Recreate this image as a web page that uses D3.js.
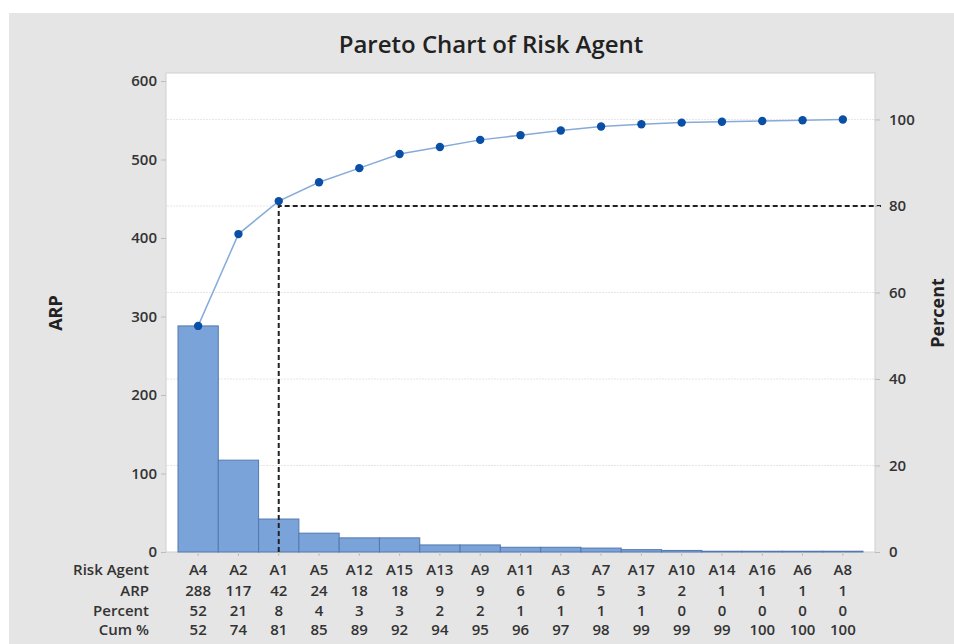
<!DOCTYPE html>
<html>
<head>
<meta charset="utf-8">
<script src="https://cdn.jsdelivr.net/npm/d3@7"></script>
<style>
  body { margin: 0; background: #fff; }
  text { font-family: "Open Sans", "DejaVu Sans", sans-serif; }
</style>
</head>
<body>
<div id="chart"></div>
<script>
// Data
const agents = ['A4', 'A2', 'A1', 'A5', 'A12', 'A15', 'A13', 'A9', 'A11', 'A3', 'A7', 'A17', 'A10', 'A14', 'A16', 'A6', 'A8']
const arp = [288, 117, 42, 24, 18, 18, 9, 9, 6, 6, 5, 3, 2, 1, 1, 1, 1]
const percent = [52, 21, 8, 4, 3, 3, 2, 2, 1, 1, 1, 1, 0, 0, 0, 0, 0]
const cumPercent = [52, 74, 81, 85, 89, 92, 94, 95, 96, 97, 98, 99, 99, 99, 100, 100, 100]
const leftTicks = [0, 100, 200, 300, 400, 500, 600]
const rightTicks = [0, 20, 40, 60, 80, 100]
const cutoff = 80

// Dimensions
const dimensions = {
  width: 954,
  height: 644,
  plotLeft: 166,
  plotRight: 875,
  plotTop: 73,
  plotBottom: 552
}

const svg = d3.select('#chart')
  .append('svg')
  .attr('width', dimensions.width)
  .attr('height', dimensions.height)

svg.append('rect')
  .attr('x', 9).attr('y', 13)
  .attr('width', dimensions.width - 9)
  .attr('height', dimensions.height - 13)
  .attr('fill', '#e5e5e5')

svg.append('rect')
  .attr('x', dimensions.plotLeft)
  .attr('y', dimensions.plotTop)
  .attr('width', dimensions.plotRight - dimensions.plotLeft)
  .attr('height', dimensions.plotBottom - dimensions.plotTop)
  .attr('fill', '#fff')
  .attr('stroke', '#cfcfcf')

// Scales
const total = d3.sum(arp)
const yScale = d3.scaleLinear()
  .domain([0, 600])
  .range([dimensions.plotBottom, 81])

const pctScale = d3.scaleLinear()
  .domain([0, 600 / total * 100])
  .range([dimensions.plotBottom, 81])

const xScale = d3.scaleBand()
  .domain(agents)
  .range([178, 863])
  .padding(0)

// Gridlines (percent axis)
svg.append('g')
  .selectAll('line')
  .data(rightTicks.filter(d => d > 0))
  .join('line')
  .attr('x1', dimensions.plotLeft + 1)
  .attr('x2', dimensions.plotRight - 1)
  .attr('y1', d => pctScale(d))
  .attr('y2', d => pctScale(d))
  .attr('stroke', '#e6e6e6')
  .attr('stroke-dasharray', '2,1')

// Bars
svg.append('g')
  .selectAll('rect')
  .data(arp)
  .join('rect')
  .attr('x', (d, i) => xScale(agents[i]))
  .attr('y', d => yScale(d))
  .attr('width', xScale.bandwidth())
  .attr('height', d => dimensions.plotBottom - yScale(d))
  .attr('fill', '#7aa3da')
  .attr('stroke', '#5479ad')
  .attr('stroke-width', 1)

// Cutoff dashed lines
const cum = Array.from(d3.cumsum(arp))
const cutIndex = cumPercent.findIndex(d => d >= cutoff)
const cutX = xScale(agents[cutIndex]) + xScale.bandwidth() / 2
const cutY = pctScale(cutoff)

svg.append('path')
  .attr('d', `M${cutX},${dimensions.plotBottom}V${cutY}H${dimensions.plotRight + 6}`)
  .attr('fill', 'none')
  .attr('stroke', '#222')
  .attr('stroke-width', 2)
  .attr('stroke-dasharray', '5,3')

// Cumulative line
const line = d3.line()
  .x((d, i) => xScale(agents[i]) + xScale.bandwidth() / 2)
  .y(d => yScale(d))

svg.append('path')
  .datum(cum)
  .attr('d', line)
  .attr('fill', 'none')
  .attr('stroke', '#86abd9')
  .attr('stroke-width', 1.5)

svg.append('g')
  .selectAll('circle')
  .data(cum)
  .join('circle')
  .attr('cx', (d, i) => xScale(agents[i]) + xScale.bandwidth() / 2)
  .attr('cy', d => yScale(d))
  .attr('r', 4.2)
  .attr('fill', '#0a4fa6')

// Axes
const leftAxis = svg.append('g')
  .attr('transform', `translate(${dimensions.plotLeft},0)`)
  .call(d3.axisLeft(yScale).tickValues(leftTicks).tickSize(5).tickPadding(4))

const rightAxis = svg.append('g')
  .attr('transform', `translate(${dimensions.plotRight},0)`)
  .call(d3.axisRight(pctScale).tickValues(rightTicks).tickSize(5).tickPadding(9))

const bottomAxis = svg.append('g')
  .attr('transform', `translate(0,${dimensions.plotBottom})`)
  .call(d3.axisBottom(xScale).tickSize(4).tickFormat(''))

for (const ax of [leftAxis, rightAxis, bottomAxis]) {
  ax.select('.domain').remove()
  ax.selectAll('.tick line').attr('stroke', '#bdbdbd')
  ax.selectAll('.tick text')
    .attr('fill', '#333')
    .style('font-size', '15px')
    .style('font-weight', 600)
}

// Table below the axis
const rows = [
  { label: 'Risk Agent', values: agents, y: 570 },
  { label: 'ARP', values: arp, y: 591 },
  { label: 'Percent', values: percent, y: 611 },
  { label: 'Cum %', values: cumPercent, y: 630 }
]

const table = svg.append('g')
  .style('font-size', '15px')
  .style('font-weight', 600)
  .attr('fill', '#333')

table.selectAll('text.row-label')
  .data(rows)
  .join('text')
  .classed('row-label', true)
  .attr('x', 149)
  .attr('y', d => d.y)
  .attr('dy', '0.35em')
  .attr('text-anchor', 'end')
  .text(d => d.label)

rows.forEach(row => {
  table.append('g')
    .selectAll('text')
    .data(row.values)
    .join('text')
    .attr('x', (d, i) => xScale(agents[i]) + xScale.bandwidth() / 2)
    .attr('y', row.y)
    .attr('dy', '0.35em')
    .attr('text-anchor', 'middle')
    .text(d => d)
})

// Titles
svg.append('text')
  .attr('x', 491)
  .attr('y', 45)
  .attr('dy', '0.35em')
  .attr('text-anchor', 'middle')
  .attr('fill', '#222')
  .style('font-size', '24px')
  .style('font-weight', 600)
  .text('Pareto Chart of Risk Agent')

svg.append('text')
  .attr('transform', 'translate(56,313) rotate(-90)')
  .attr('dy', '0.35em')
  .attr('text-anchor', 'middle')
  .attr('fill', '#222')
  .style('font-size', '18px')
  .style('font-weight', 700)
  .text('ARP')

svg.append('text')
  .attr('transform', 'translate(938,313) rotate(-90)')
  .attr('dy', '0.35em')
  .attr('text-anchor', 'middle')
  .attr('fill', '#222')
  .style('font-size', '18px')
  .style('font-weight', 700)
  .text('Percent')
</script>
</body>
</html>
